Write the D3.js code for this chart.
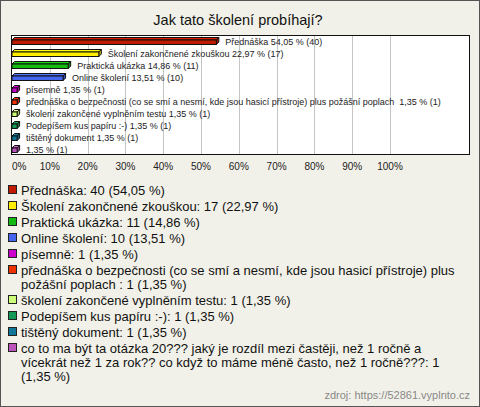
<!DOCTYPE html>
<html>
<head>
<meta charset="utf-8">
<script src="https://cdn.jsdelivr.net/npm/d3@7"></script>
<style>
  html, body { margin: 0; padding: 0; background: #f2f1e9; }
  svg { display: block; font-family: Arial, "Liberation Sans", sans-serif; }
  text { white-space: pre; }
</style>
</head>
<body>
<svg id="chart" width="480" height="407"></svg>
<script>
const title = "Jak tato školení probíhají?";
const categories = [
  "Přednáška",
  "Školení zakončnené zkouškou",
  "Praktická ukázka",
  "Online školení",
  "písemně",
  "přednáška o bezpečnosti (co se smí a nesmí, kde jsou hasicí přístroje) plus požášní poplach ",
  "školení zakončené vyplněním testu",
  "Podepíšem kus papíru :-)",
  "tištěný dokument",
  "co to ma být ta otázka 20??? jaký je rozdíl mezi častěji, než 1 ročně a vícekrát než 1 za rok?? co když to máme méně často, než 1 ročně???"
];
const barNames = [
  "Přednáška",
  "Školení zakončnené zkouškou",
  "Praktická ukázka",
  "Online školení",
  "písemně",
  "přednáška o bezpečnosti (co se smí a nesmí, kde jsou hasicí přístroje) plus požášní poplach ",
  "školení zakončené vyplněním testu",
  "Podepíšem kus papíru :-)",
  "tištěný dokument",
  ""
];
const counts = [40, 17, 11, 10, 1, 1, 1, 1, 1, 1];
const percents = [54.05, 22.97, 14.86, 13.51, 1.35, 1.35, 1.35, 1.35, 1.35, 1.35];
const colors = ["#c01a00", "#ffee00", "#11bb11", "#4466ee", "#cc00cc",
                "#ee3300", "#ccff77", "#119955", "#117799", "#bb55bb"];
const tickValues = [0, 10, 20, 30, 40, 50, 60, 70, 80, 90, 100];
const source = "zdroj: https://52861.vyplnto.cz";

const fmt = v => d3.format(".2f")(v).replace(".", ",");

const svg = d3.select("#chart");
const W = 480, H = 407;

// outer border
svg.append("rect").attr("x", 0.5).attr("y", 0.5).attr("width", W - 1).attr("height", H - 1)
  .attr("fill", "#f2f1e9").attr("stroke", "#555").attr("stroke-width", 1);

// title
svg.append("text").attr("x", 238).attr("y", 25).attr("text-anchor", "middle")
  .attr("font-size", 14.5).attr("fill", "#111").text(title);

// plot frame
const plot = { left: 11, top: 35, right: 470, bottom: 155 };
const x = d3.scaleLinear().domain([0, 100]).range([12, 390]);
const y = d3.scaleBand().domain(d3.range(categories.length)).range([35.5, 155.5]).padding(0);

svg.append("rect").attr("x", plot.left + 0.5).attr("y", plot.top + 0.5)
  .attr("width", plot.right - plot.left - 1).attr("height", plot.bottom - plot.top - 1)
  .attr("fill", "#ffffff").attr("stroke", "none");

// gridlines
svg.append("g").selectAll("line").data(tickValues.filter(t => t > 0)).join("line")
  .attr("x1", d => Math.round(x(d)) + 0.5).attr("x2", d => Math.round(x(d)) + 0.5)
  .attr("y1", plot.top).attr("y2", plot.bottom)
  .attr("stroke", "#c4c4c4").attr("stroke-width", 1);

svg.append("rect").attr("x", plot.left + 0.5).attr("y", plot.top + 0.5)
  .attr("width", plot.right - plot.left - 1).attr("height", plot.bottom - plot.top - 1)
  .attr("fill", "none").attr("stroke", "#111").attr("stroke-width", 1);

// 3D bars
const depth = 2.5, fh = 4.5;
const data = categories.map((c, i) => ({ i, c, n: counts[i], p: percents[i], col: colors[i], bn: barNames[i] }));
const bars = svg.append("g").selectAll("g").data(data).join("g");
bars.each(function(d) {
  const g = d3.select(this);
  const cy = y(d.i) + y.bandwidth() / 2;
  const x0 = x(0), x1 = x(d.p);
  const top = cy - 1.5;
  const col = d3.color(d.col);
  g.append("path")
    .attr("d", `M${x0},${top} L${x0 + depth},${top - depth} L${x1 + depth},${top - depth} L${x1},${top} Z`)
    .attr("fill", col.brighter(0.4)).attr("stroke", "#111").attr("stroke-width", 1)
    .attr("stroke-linejoin", "round");
  g.append("path")
    .attr("d", `M${x1},${top} L${x1 + depth},${top - depth} L${x1 + depth},${top + fh - depth} L${x1},${top + fh} Z`)
    .attr("fill", col.darker(0.6)).attr("stroke", "#111").attr("stroke-width", 1)
    .attr("stroke-linejoin", "round");
  g.append("rect").attr("x", x0).attr("y", top).attr("width", Math.max(0, x1 - x0)).attr("height", fh)
    .attr("fill", col).attr("stroke", "#111").attr("stroke-width", 1);
  const lab = (d.bn ? d.bn + " " : "") + fmt(d.p) + " % (" + d.n + ")";
  g.append("text").attr("x", x1 + 9).attr("y", cy + 3.5)
    .attr("font-size", 9).attr("fill", "#222").text(lab);
});

// axis tick labels
svg.append("g").selectAll("text").data(tickValues).join("text")
  .attr("x", d => x(d))
  .attr("y", 170)
  .attr("text-anchor", d => d === 0 ? "start" : "middle")
  .attr("font-size", 10).attr("fill", "#222")
  .text(d => d + "%");

// legend
const legendX = 21, maxW = 449, lineH = 14, itemGap = 16;
let base = 195;
const lg = svg.append("g");
data.forEach(d => {
  const full = d.c + ": " + d.n + " (" + fmt(d.p) + " %)";
  lg.append("rect").attr("x", 8.5).attr("y", base - 9.5).attr("width", 8).attr("height", 8)
    .attr("fill", d.col).attr("stroke", "#222").attr("stroke-width", 1);
  const t = lg.append("text").attr("x", legendX).attr("y", base)
    .attr("font-size", 13).attr("fill", "#111");
  const words = full.split(" ");
  let line = [];
  let tspan = t.append("tspan").attr("x", legendX).attr("y", base);
  let lines = 1;
  for (let k = 0; k < words.length; k++) {
    line.push(words[k]);
    tspan.text(line.join(" "));
    if (tspan.node().getComputedTextLength() > maxW && line.length > 1) {
      line.pop();
      tspan.text(line.join(" "));
      line = [words[k]];
      lines++;
      tspan = t.append("tspan").attr("x", legendX).attr("y", base + (lines - 1) * lineH).text(words[k]);
    }
  }
  base += (lines - 1) * lineH + itemGap;
});

// source
svg.append("text").attr("x", 470).attr("y", 399).attr("text-anchor", "end")
  .attr("font-size", 11).attr("fill", "#888").text(source);
</script>
</body>
</html>
